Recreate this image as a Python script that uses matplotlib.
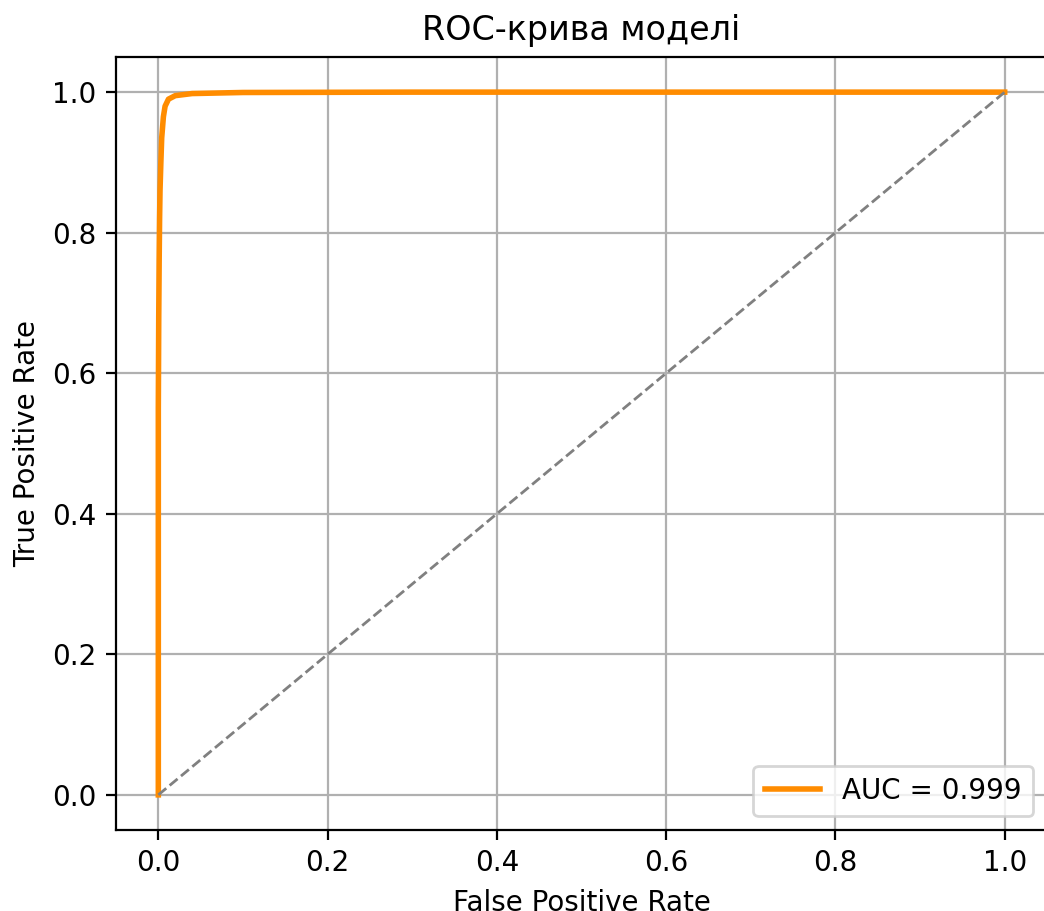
import matplotlib
matplotlib.use("Agg")
import matplotlib.pyplot as plt

fpr = [0.0, 0.0, 0.0005, 0.001, 0.0015, 0.002, 0.003, 0.004, 0.006, 0.008, 0.012, 0.02, 0.04, 0.1, 0.3, 1.0]
tpr = [0.0, 0.55, 0.68, 0.76, 0.82, 0.86, 0.90, 0.935, 0.965, 0.98, 0.99, 0.995, 0.998, 0.9995, 1.0, 1.0]
auc_value = 0.999
title = "ROC-крива моделі"

DPI = 200
fig = plt.figure(figsize=(1044 / DPI, 911 / DPI), dpi=DPI)
ax = fig.add_axes([116 / 1044, 81 / 911, 931 / 1044, 773 / 911])
ax.plot(fpr, tpr, color="darkorange", lw=2, label=f"AUC = {auc_value:.3f}")
ax.plot([0, 1], [0, 1], color="gray", linestyle="--", lw=1)
ax.set_xlabel("False Positive Rate")
ax.set_ylabel("True Positive Rate")
ax.set_title(title)
ax.legend(loc="lower right")
ax.grid(True)
fig.savefig("out.png", dpi=DPI)
